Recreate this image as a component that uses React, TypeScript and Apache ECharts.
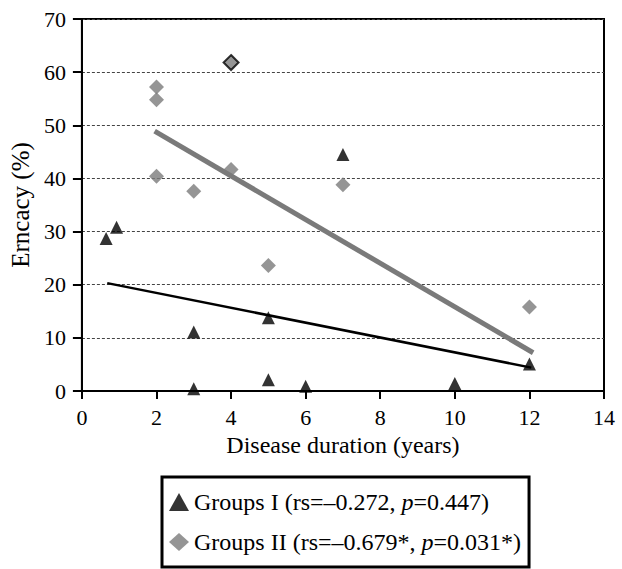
import React, { useEffect, useRef } from "react";
import * as echarts from "echarts";

const groupI: number[][] = [
  [0.65, 28.7], [0.93, 30.8], [3, 11.1], [3, 0.4], [5, 13.8], [5, 2.1],
  [6, 0.9], [10, 1.4], [12, 5.1], [7, 44.5],
];
const groupII: number[][] = [
  [2, 57.2], [2, 54.8], [2, 40.4], [3, 37.6], [4, 61.8], [4, 41.7],
  [5, 23.6], [7, 38.8], [12, 15.8],
];
const trendI: number[][] = [[0.68, 20.3], [12.05, 4.4]];
const trendII: number[][] = [[1.95, 48.9], [12.1, 7.2]];
const xTicks = [0, 14, 2];
const yTicks = [0, 70, 10];
const legendText: Record<string, string> = {
  "Groups I": "{n|Groups I (rs=–0.272, }{i|p}{n|=0.447)}",
  "Groups II": "{n|Groups II (rs=–0.679*, }{i|p}{n|=0.031*)}",
};

const FONT = "'Liberation Serif', 'Times New Roman', serif";

export default function App() {
  const ref = useRef<HTMLDivElement>(null);
  useEffect(() => {
    const chart = echarts.init(ref.current!, null, { renderer: "svg" });
    chart.setOption({
      animation: false,
      backgroundColor: "#fff",
      grid: {
        left: 79, top: 19, right: 18, bottom: 178,
        show: true, borderColor: "#000", borderWidth: 2,
      },
      xAxis: {
        type: "value", min: xTicks[0], max: xTicks[1], interval: xTicks[2],
        name: "Disease duration (years)", nameLocation: "middle", nameGap: 37,
        nameTextStyle: { fontFamily: FONT, fontSize: 24, color: "#000" },
        axisLine: { lineStyle: { color: "#000", width: 2 } },
        axisTick: { show: true, length: 8, lineStyle: { color: "#000", width: 2 } },
        axisLabel: { fontFamily: FONT, fontSize: 22, color: "#000", margin: 15 },
        splitLine: { show: false },
      },
      yAxis: {
        type: "value", min: yTicks[0], max: yTicks[1], interval: yTicks[2],
        name: "Erncacy (%)", nameLocation: "middle", nameGap: 42,
        nameTextStyle: { fontFamily: FONT, fontSize: 25, color: "#000" },
        axisLine: { show: true, lineStyle: { color: "#000", width: 2 } },
        axisTick: { show: true, length: 9, lineStyle: { color: "#000", width: 2 } },
        axisLabel: { fontFamily: FONT, fontSize: 22, color: "#000", margin: 16 },
        splitLine: { show: true, lineStyle: { color: "#444", width: 1, type: [3, 2] } },
      },
      legend: {
        orient: "vertical",
        left: 162, top: 477,
        data: ["Groups I", "Groups II"],
        borderColor: "#000", borderWidth: 3,
        padding: [13, 8, 13, 7],
        itemGap: 16,
        itemWidth: 20, itemHeight: 18,
        formatter: (name: string) => legendText[name],
        textStyle: {
          rich: {
            n: { fontFamily: FONT, fontSize: 24, color: "#000" },
            i: { fontFamily: FONT, fontSize: 24, color: "#000", fontStyle: "italic" },
          },
        },
      },
      series: [
        {
          name: "trendII", type: "line", data: trendII, symbol: "none",
          lineStyle: { color: "#7a7a7a", width: 5 }, z: 2,
        },
        {
          name: "trendI", type: "line", data: trendI, symbol: "none",
          lineStyle: { color: "#000", width: 2.5 }, z: 2,
        },
        {
          name: "Groups II", type: "scatter", symbol: "diamond", symbolSize: 15,
          itemStyle: { color: "#7a7a7a" },
          data: groupII.map((d) =>
            d[0] === 4 && d[1] > 60
              ? { value: d, itemStyle: { borderColor: "#000", borderWidth: 2 } }
              : d
          ),
          z: 3,
        },
        {
          name: "Groups I", type: "scatter", symbol: "triangle", symbolSize: 13,
          itemStyle: { color: "#000" }, data: groupI, z: 4,
        },
      ],
    });
    return () => chart.dispose();
  }, []);
  return <div ref={ref} style={{ width: 622, height: 569, position: "absolute", left: 0, top: 0 }} />;
}
